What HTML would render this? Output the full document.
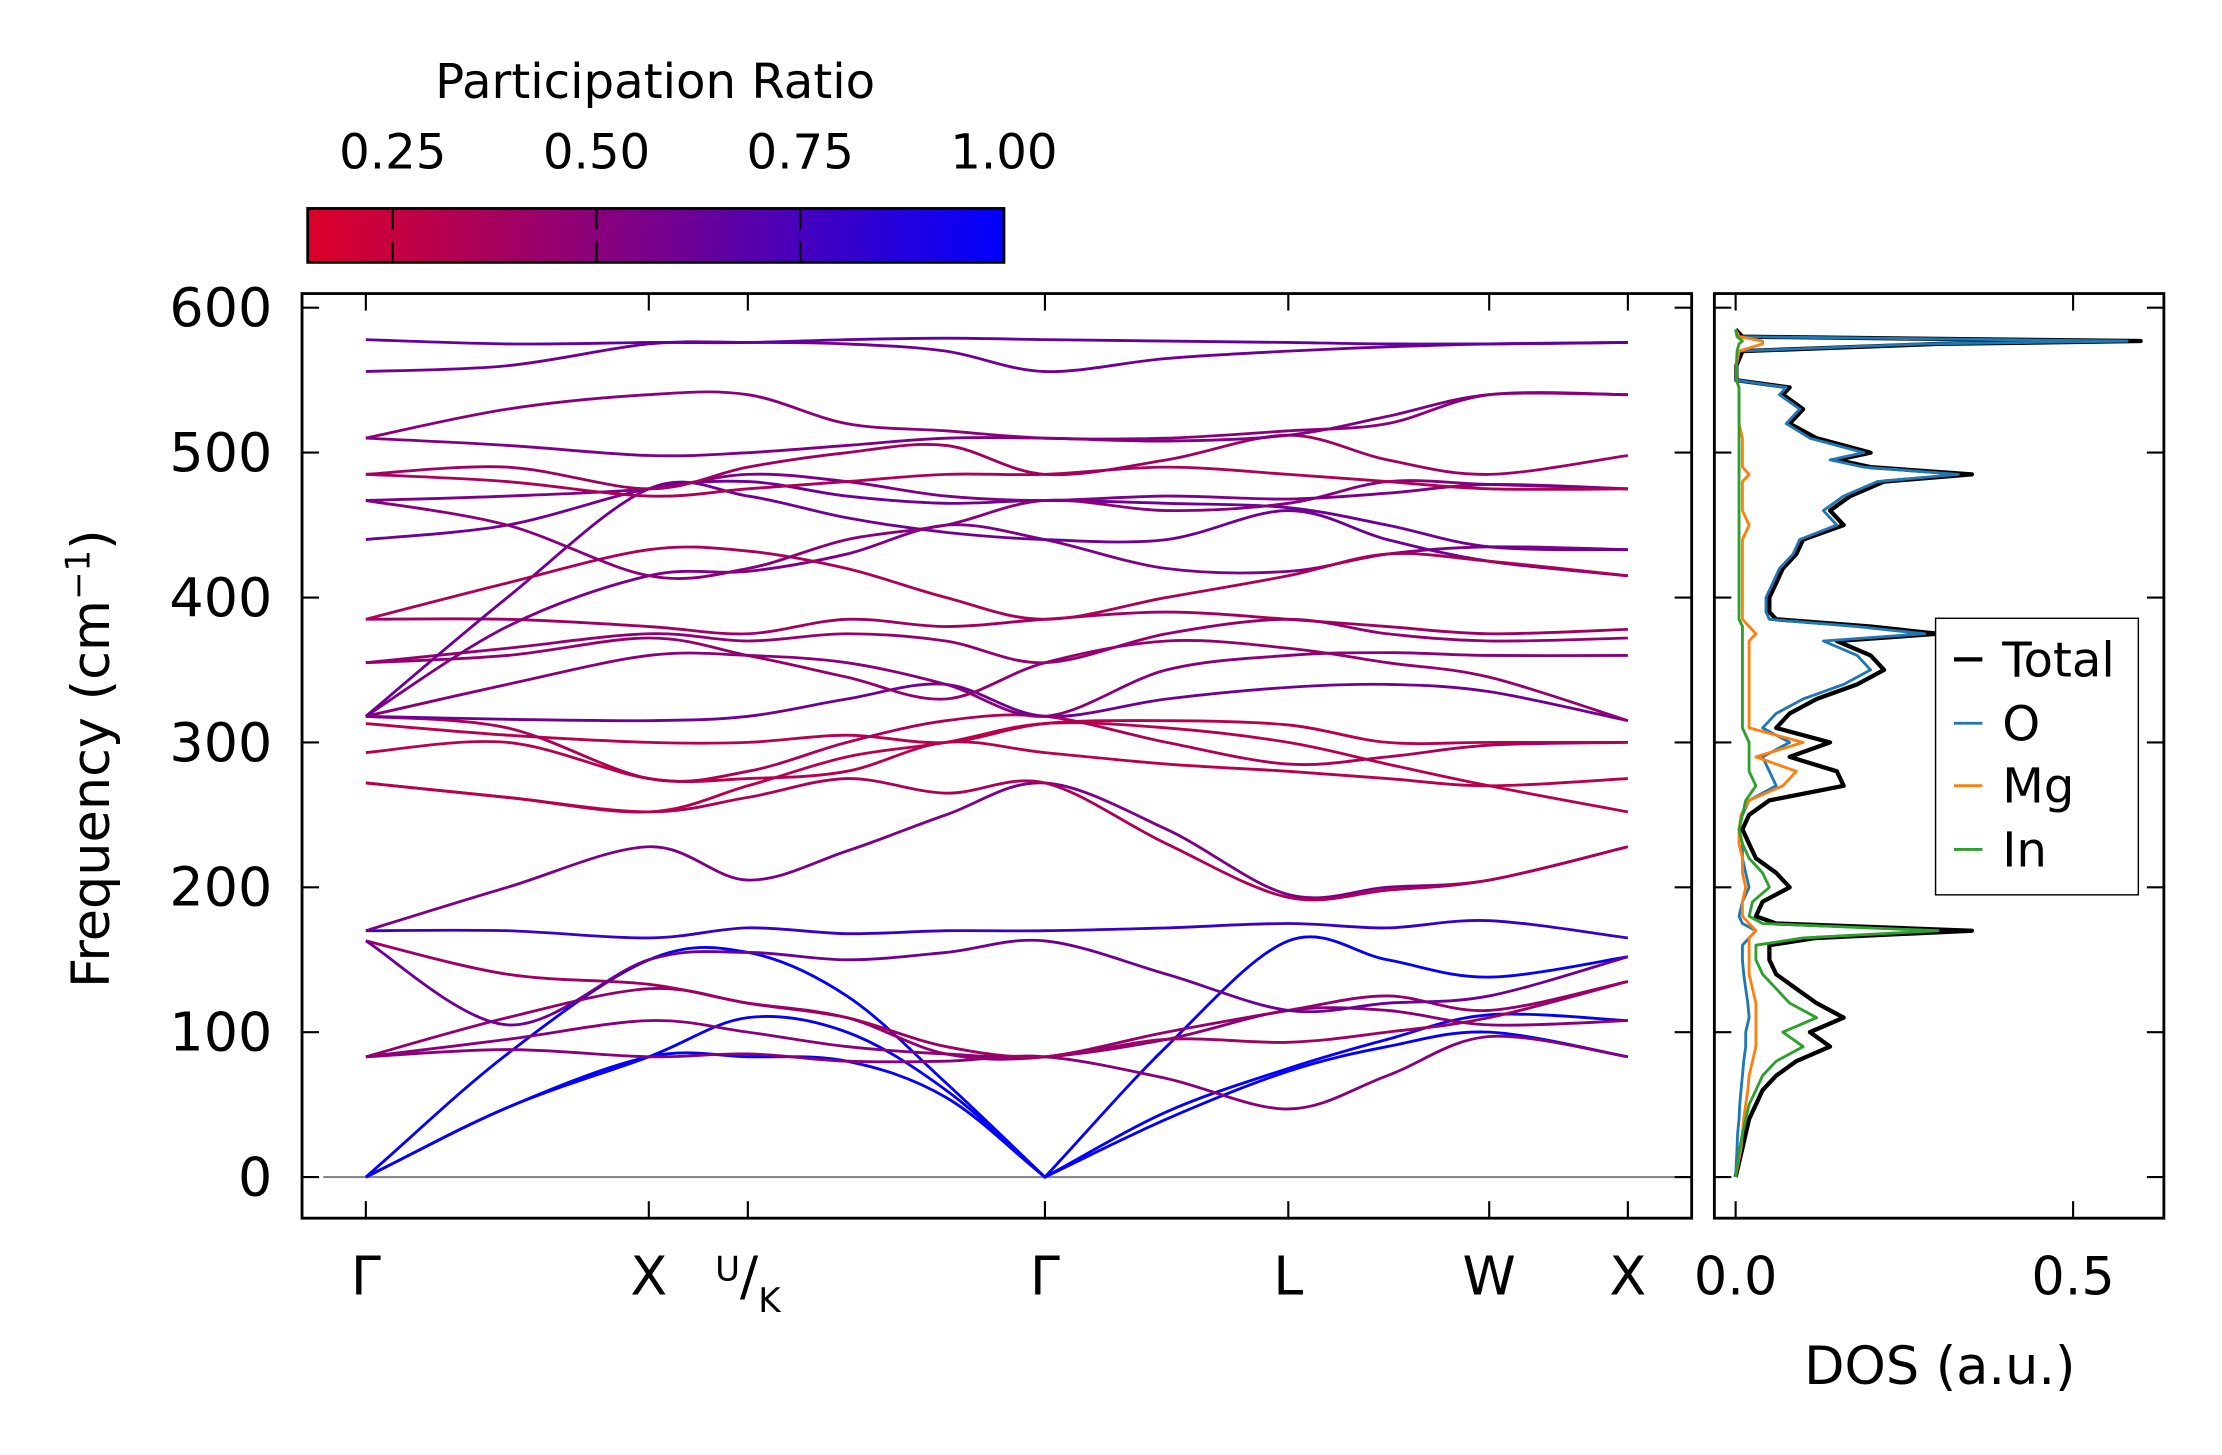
<!DOCTYPE html>
<html><head><meta charset="utf-8"><style>
html,body{margin:0;padding:0;background:#fff;}
svg{display:block;font-family:"DejaVu Sans","Liberation Sans",sans-serif;}
</style></head><body>
<svg id="fig" width="2222" height="1455" viewBox="0 0 1567 1026" preserveAspectRatio="none" xmlns="http://www.w3.org/2000/svg">
<defs>
<linearGradient id="cmap" x1="0" x2="1" y1="0" y2="0">
<stop offset="0" stop-color="rgb(222,0,40)"/>
<stop offset="0.5" stop-color="rgb(120,0,140)"/>
<stop offset="1" stop-color="rgb(0,0,255)"/>
</linearGradient>
<clipPath id="mainclip"><rect x="213" y="207" width="980" height="652"/></clipPath>
<clipPath id="dosclip"><rect x="1209" y="207" width="317" height="652"/></clipPath>
</defs>
<g id="colorbar">
<text x="462" y="69" font-size="34" text-anchor="middle">Participation Ratio</text>
<rect x="217" y="147" width="491" height="38" fill="url(#cmap)" stroke="#000" stroke-width="2"/>
</g>
<g id="main"></g>
<g id="dos"></g>
</svg>
<script>
const kLabels=['Γ','X','U/K','Γ','L','W','X'];
const kLabelPos=[0,1,1.35,2.4,3.26,3.97,4.46];
const kNodes=[0,0.5,1,1.35,1.7,2.05,2.4,2.83,3.26,3.61,3.97,4.46];
const yTicks=[0,100,200,300,400,500,600];
const band01=[0,48,83,83,80,55,0,40,73,90,100,83];
const band02=[0,48,83,110,100,60,0,45,75,95,112,108];
const band03=[0,85,150,155,125,65,0,90,163,150,138,152];
const band04=[83,88,83,85,80,80,83,68,47,70,97,83];
const band05=[83,95,108,100,90,85,83,95,115,115,105,108];
const band06=[83,110,130,120,110,85,83,100,115,125,115,135];
const band07=[163,140,133,120,110,90,83,95,93,100,110,135];
const band08=[163,105,150,155,150,155,163,140,115,120,125,152];
const band09=[170,170,165,172,168,170,170,172,175,172,177,165];
const band10=[170,200,228,205,225,250,272,240,195,200,205,228];
const band11=[272,262,252,262,275,265,272,230,193,198,205,228];
const band12=[272,262,252,270,290,300,313,310,300,285,270,252];
const band13=[293,300,275,275,280,300,293,285,280,275,270,275];
const band14=[313,305,300,300,305,300,313,315,312,300,300,300];
const band15=[318,310,275,280,300,315,318,300,285,290,298,300];
const band16=[318,316,315,318,330,340,318,330,338,340,335,315];
const band17=[318,340,360,360,355,340,318,350,360,362,360,360];
const band18=[355,360,372,360,345,330,355,370,365,355,345,315];
const band19=[355,365,375,370,375,370,355,375,385,375,370,372];
const band20=[385,385,380,375,385,380,385,390,385,380,375,378];
const band21=[318,380,415,418,430,450,440,420,418,430,435,433];
const band22=[318,400,475,470,455,445,440,440,460,440,425,415];
const band23=[385,410,433,432,420,400,385,400,415,430,425,415];
const band24=[440,450,475,480,470,465,467,465,462,450,435,433];
const band25=[467,450,415,420,440,450,467,460,465,480,478,475];
const band26=[467,470,475,485,480,470,467,470,468,472,478,475];
const band27=[485,480,470,475,480,485,485,490,485,480,475,475];
const band28=[485,490,475,490,500,505,485,495,512,495,485,498];
const band29=[510,505,498,500,505,510,510,508,512,525,540,540];
const band30=[510,530,540,540,520,515,510,510,515,520,540,540];
const band31=[556,560,575,576,575,570,556,565,570,573,575,576];
const band32=[578,575,576,576,578,579,578,577,576,575,575,576];
const bands=[band01,band02,band03,band04,band05,band06,band07,band08,band09,band10,band11,band12,band13,band14,band15,band16,band17,band18,band19,band20,band21,band22,band23,band24,band25,band26,band27,band28,band29,band30,band31,band32];
const bandPR=[0.98,0.98,0.98,0.5,0.5,0.45,0.4,0.6,0.8,0.55,0.35,0.3,0.3,0.3,0.35,0.6,0.5,0.45,0.45,0.4,0.55,0.6,0.35,0.6,0.5,0.55,0.35,0.4,0.55,0.5,0.6,0.65];

const dosFreq=[0,10,20,30,40,50,60,70,80,90,100,110,120,130,140,150,160,165,170,175,180,190,200,210,220,230,240,250,260,270,280,290,300,310,320,330,340,350,360,370,375,380,385,390,400,410,420,430,440,450,460,470,480,485,490,495,500,510,520,530,540,545,550,560,570,575,577,580,585];
const dosTotal=[0,0.005,0.01,0.015,0.02,0.03,0.04,0.06,0.09,0.14,0.11,0.16,0.12,0.09,0.06,0.05,0.05,0.12,0.35,0.06,0.03,0.04,0.08,0.06,0.03,0.02,0.01,0.02,0.05,0.16,0.15,0.08,0.14,0.06,0.08,0.12,0.18,0.22,0.2,0.15,0.3,0.2,0.06,0.05,0.05,0.06,0.07,0.09,0.1,0.16,0.14,0.17,0.22,0.35,0.2,0.15,0.2,0.12,0.08,0.1,0.07,0.08,0.001,0.001,0.01,0.3,0.6,0.01,0];
const dosO=[0,0.001,0.002,0.003,0.005,0.006,0.008,0.01,0.012,0.015,0.015,0.02,0.018,0.015,0.012,0.01,0.01,0.02,0.03,0.01,0.005,0.01,0.02,0.015,0.01,0.01,0.005,0.01,0.02,0.06,0.05,0.04,0.08,0.04,0.06,0.1,0.16,0.2,0.18,0.13,0.28,0.18,0.05,0.045,0.045,0.055,0.065,0.085,0.095,0.15,0.13,0.16,0.21,0.33,0.19,0.14,0.19,0.11,0.075,0.095,0.065,0.075,0.001,0.001,0.005,0.28,0.58,0.005,0];
const dosMg=[0,0.004,0.008,0.01,0.012,0.015,0.018,0.02,0.025,0.03,0.03,0.03,0.03,0.025,0.02,0.02,0.02,0.02,0.03,0.02,0.01,0.01,0.015,0.01,0.01,0.005,0.005,0.008,0.02,0.07,0.09,0.03,0.1,0.02,0.02,0.02,0.02,0.02,0.02,0.02,0.03,0.02,0.01,0.01,0.01,0.01,0.01,0.01,0.01,0.02,0.01,0.01,0.01,0.02,0.01,0.01,0.01,0.01,0.005,0.005,0.005,0.005,0.001,0.001,0.005,0.04,0.04,0.005,0];
const dosIn=[0,0.003,0.006,0.01,0.015,0.02,0.03,0.04,0.06,0.1,0.07,0.12,0.08,0.06,0.04,0.03,0.03,0.1,0.3,0.04,0.02,0.025,0.05,0.04,0.02,0.01,0.005,0.01,0.015,0.03,0.02,0.02,0.02,0.01,0.01,0.01,0.01,0.01,0.01,0.01,0.01,0.01,0.005,0.005,0.005,0.005,0.005,0.005,0.005,0.005,0.005,0.005,0.005,0.005,0.005,0.005,0.005,0.005,0.005,0.005,0.005,0.005,0.001,0.001,0.002,0.005,0.01,0.002,0];
const dosTicks=[0.0,0.5];
const cbTicks=[0.25,0.50,0.75,1.00];

const NS='http://www.w3.org/2000/svg';
function el(tag,attrs,parent){const e=document.createElementNS(NS,tag);for(const k in attrs)e.setAttribute(k,attrs[k]);parent.appendChild(e);return e;}
const X0=258,X1=1148;
const FL=213,FR=1193,FT=207,FB=859,DL=1209,DR=1526;
function kx(k){return X0+(k-0)*(X1-X0)/4.46;}
function fy(f){return 830-f*(830-217)/600;}
function dx(v){return 1224+v*(1462-1224)/0.5;}
function cbx(v){return 708-(1-v)*(708-277)/0.75;}
function prColor(p){const t=Math.max(0,Math.min(1,(p-0.146)/(1-0.146)));let r,g,b;
 if(t<0.5){const u=t/0.5;r=222+(120-222)*u;g=0;b=40+(140-40)*u;}else{const u=(t-0.5)/0.5;r=120-120*u;g=0;b=140+115*u;}
 return `rgb(${r|0},${g|0},${b|0})`;}
function spline(pts,vals){let d=`M${pts[0][0]},${pts[0][1]}`;
 for(let i=0;i<pts.length-1;i++){const p0=pts[Math.max(0,i-1)],p1=pts[i],p2=pts[i+1],p3=pts[Math.min(pts.length-1,i+2)];
  let c1=[p1[0]+(p2[0]-p0[0])/6,p1[1]+(p2[1]-p0[1])/6],c2=[p2[0]-(p3[0]-p1[0])/6,p2[1]-(p3[1]-p1[1])/6];
  if(vals[i]===0)c1=[p1[0]+(p2[0]-p1[0])/3,p1[1]+(p2[1]-p1[1])/3];
  if(vals[i+1]===0)c2=[p2[0]-(p2[0]-p1[0])/3,p2[1]-(p2[1]-p1[1])/3];
  d+=`C${c1[0].toFixed(1)},${c1[1].toFixed(1)} ${c2[0].toFixed(1)},${c2[1].toFixed(1)} ${p2[0].toFixed(1)},${p2[1].toFixed(1)}`;}
 return d;}

const cb=document.getElementById('colorbar');
cbTicks.forEach(v=>{const x=cbx(v);
 if(v<1){const l=el('line',{x1:x,x2:x,y1:148,y2:184,stroke:'#000','stroke-width':1.5,'stroke-dasharray':'14,8'},cb);
 
 }
 const t=el('text',{x:x,y:119,'font-size':34,'text-anchor':'middle'},cb);t.textContent=v.toFixed(2);
 
 
});

const m=document.getElementById('main');
const zl=el('line',{x1:228,x2:FR,y1:fy(0),y2:fy(0),stroke:'#888','stroke-width':1.5},m);


const bg=el('g',{'clip-path':'url(#mainclip)'},m);


bands.forEach((b,i)=>{const pts=b.map((f,j)=>[kx(kNodes[j]),fy(f)]);
 const p=el('path',{d:spline(pts,b),fill:'none',stroke:prColor(bandPR[i]),'stroke-width':2},bg);
 
 });
const fr=el('rect',{x:FL,y:FT,width:FR-FL,height:FB-FT,fill:'none',stroke:'#000','stroke-width':2},m);


yTicks.forEach(v=>{const y=fy(v);
 el('line',{x1:FL,x2:FL+12,y1:y,y2:y,stroke:'#000','stroke-width':1.5},m);
 el('line',{x1:FR-12,x2:FR,y1:y,y2:y,stroke:'#000','stroke-width':1.5},m);
 const t=el('text',{x:192,y:y+13,'font-size':38,'text-anchor':'end'},m);t.textContent=v;
 
 });
kLabels.forEach((lab,i)=>{const x=kx(kLabelPos[i]);
 el('line',{x1:x,x2:x,y1:FB-12,y2:FB,stroke:'#000','stroke-width':1.5},m);
 el('line',{x1:x,x2:x,y1:FT,y2:FT+12,stroke:'#000','stroke-width':1.5},m);
 let t=el('text',{x:x,y:913,'font-size':38,'text-anchor':'middle'},m);
 if(lab==='U/K'){t.innerHTML='<tspan font-size="24" dy="-10">U</tspan><tspan dy="10">/</tspan><tspan font-size="24" dy="12">K</tspan>';}
 else{t.textContent=lab;}
 
 });
const yl=el('text',{x:0,y:0,'font-size':37,'text-anchor':'middle',transform:'translate(77,535) rotate(-90)'},m);
yl.innerHTML='Frequency (cm<tspan font-size="24" dy="-14">−1</tspan><tspan dy="14">)</tspan>';



const d=document.getElementById('dos');
const dg=el('g',{'clip-path':'url(#dosclip)'},d);
[[dosTotal,'#000','dos-total',3],[dosO,'#1f77b4','dos-o',2],[dosMg,'#ff7f0e','dos-mg',2],[dosIn,'#2ca02c','dos-in',2]].forEach(s=>{
 const dd=s[0].map((v,i)=>(i?'L':'M')+dx(v).toFixed(1)+','+fy(dosFreq[i]).toFixed(1)).join('');
 const p=el('path',{d:dd,fill:'none',stroke:s[1],'stroke-width':s[3],'stroke-linejoin':'round'},dg);
 
 });
const df=el('rect',{x:DL,y:FT,width:DR-DL,height:FB-FT,fill:'none',stroke:'#000','stroke-width':2},d);


yTicks.forEach(v=>{const y=fy(v);
 el('line',{x1:DL,x2:DL+12,y1:y,y2:y,stroke:'#000','stroke-width':1.5},d);
 el('line',{x1:DR-12,x2:DR,y1:y,y2:y,stroke:'#000','stroke-width':1.5},d);});
dosTicks.forEach(v=>{const x=dx(v);
 el('line',{x1:x,x2:x,y1:FB-12,y2:FB,stroke:'#000','stroke-width':1.5},d);
 el('line',{x1:x,x2:x,y1:FT,y2:FT+12,stroke:'#000','stroke-width':1.5},d);
 const t=el('text',{x:x,y:913,'font-size':37,'text-anchor':'middle'},d);t.textContent=v.toFixed(1);
 
 });
const dl=el('text',{x:1368,y:976,'font-size':37,'text-anchor':'middle'},d);dl.textContent='DOS (a.u.)';


const lg=el('g',{},d);


el('rect',{x:1365,y:436,width:143,height:195,fill:'#fff',stroke:'#000','stroke-width':1},lg);
[['Total','#000',465],['O','#1f77b4',510],['Mg','#ff7f0e',554],['In','#2ca02c',599]].forEach(e=>{
 el('line',{x1:1378,x2:1398,y1:e[2],y2:e[2],stroke:e[1],'stroke-width':e[0]==='Total'?3:2},lg);
 const t=el('text',{x:1412,y:e[2]+12,'font-size':34},lg);t.textContent=e[0];
 
 });
</script>
</body></html>
